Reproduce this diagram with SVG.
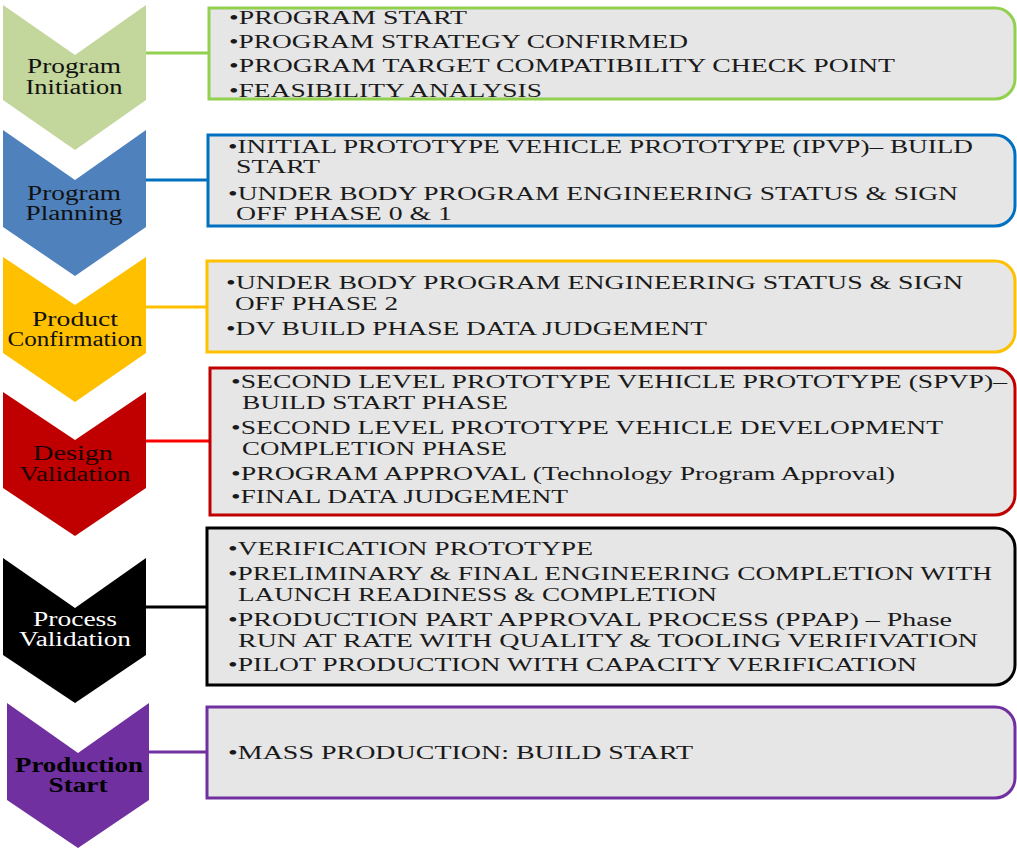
<svg xmlns="http://www.w3.org/2000/svg" width="1017" height="852" viewBox="0 0 1017 852">
<style>
.bg{fill:#ffffff}
.box{fill:#e6e6e6;stroke-width:3}
.ct{font-family:"Liberation Serif","Times New Roman",serif;font-size:20px;fill:#111;text-anchor:middle}
.bt{font-family:"Liberation Serif","Times New Roman",serif;font-size:19px;fill:#1a1a1a}
.con{stroke-width:3;fill:none}
</style>
<rect class="bg" x="0" y="0" width="1017" height="852"/>
<g id="connectors">
<line class="con" x1="144" y1="53" x2="209" y2="53" stroke="#92d050"/>
<line class="con" x1="144" y1="180" x2="208" y2="180" stroke="#0070c0"/>
<line class="con" x1="144" y1="307" x2="207" y2="307" stroke="#ffc000"/>
<line class="con" x1="144" y1="441" x2="210" y2="441" stroke="#ff0000"/>
<line class="con" x1="144" y1="607" x2="207" y2="607" stroke="#000000"/>
<line class="con" x1="148" y1="752" x2="207" y2="752" stroke="#7030a0"/>
</g>
<g id="chevron-initiation">
<path d="M3,5 L75,55 L146,5 L146,100 L75,150 L3,100 Z" fill="#c3d69b"/>
<text class="ct" x="74" y="73" textLength="94" lengthAdjust="spacingAndGlyphs">Program</text>
<text class="ct" x="74" y="94" textLength="97" lengthAdjust="spacingAndGlyphs">Initiation</text>
</g>
<g id="chevron-planning">
<path d="M3,130 L75,180 L146,130 L146,227 L75,276 L3,227 Z" fill="#4f81bd"/>
<text class="ct" x="74" y="200" textLength="94" lengthAdjust="spacingAndGlyphs">Program</text>
<text class="ct" x="74" y="220" textLength="97" lengthAdjust="spacingAndGlyphs">Planning</text>
</g>
<g id="chevron-confirmation">
<path d="M3,257 L75,305 L146,257 L146,353 L75,402 L3,353 Z" fill="#ffc000"/>
<text class="ct" x="75" y="326" textLength="86" lengthAdjust="spacingAndGlyphs">Product</text>
<text class="ct" x="75" y="346" textLength="135" lengthAdjust="spacingAndGlyphs">Confirmation</text>
</g>
<g id="chevron-design">
<path d="M3,392 L75,440 L146,392 L146,488 L75,536 L3,488 Z" fill="#c00000"/>
<text class="ct" x="73" y="460" textLength="80" lengthAdjust="spacingAndGlyphs" style="fill:#1a0000">Design</text>
<text class="ct" x="75" y="481" textLength="111" lengthAdjust="spacingAndGlyphs" style="fill:#1a0000">Validation</text>
</g>
<g id="chevron-process">
<path d="M3,558 L75,608 L146,558 L146,655 L75,703 L3,655 Z" fill="#000000"/>
<text class="ct" x="75" y="626" textLength="84" lengthAdjust="spacingAndGlyphs" style="fill:#ffffff">Process</text>
<text class="ct" x="75" y="646" textLength="112" lengthAdjust="spacingAndGlyphs" style="fill:#ffffff">Validation</text>
</g>
<g id="chevron-production">
<path d="M7,703 L78,753 L149,703 L149,800 L78,848 L7,800 Z" fill="#7030a0"/>
<text class="ct" x="79" y="772" textLength="128" lengthAdjust="spacingAndGlyphs" style="font-weight:bold;fill:#000">Production</text>
<text class="ct" x="78" y="792" textLength="59" lengthAdjust="spacingAndGlyphs" style="font-weight:bold;fill:#000">Start</text>
</g>
<g id="box-initiation">
<path class="box" stroke="#92d050" d="M209,8 H995 A20,20 0 0 1 1015,28 V79 A20,20 0 0 1 995,99 H209 Z"/>
<text class="bt" x="229" y="24" textLength="238" lengthAdjust="spacingAndGlyphs">•PROGRAM START</text>
<text class="bt" x="229" y="48" textLength="459" lengthAdjust="spacingAndGlyphs">•PROGRAM STRATEGY CONFIRMED</text>
<text class="bt" x="229" y="72" textLength="666" lengthAdjust="spacingAndGlyphs">•PROGRAM TARGET COMPATIBILITY CHECK POINT</text>
<text class="bt" x="229" y="97" textLength="313" lengthAdjust="spacingAndGlyphs">•FEASIBILITY ANALYSIS</text>
</g>
<g id="box-planning">
<path class="box" stroke="#0070c0" d="M208,135 H995 A20,20 0 0 1 1015,155 V206 A20,20 0 0 1 995,226 H208 Z"/>
<text class="bt" x="228" y="153" textLength="745" lengthAdjust="spacingAndGlyphs">•INITIAL PROTOTYPE VEHICLE PROTOTYPE (IPVP)– BUILD</text>
<text class="bt" x="236" y="173" textLength="84" lengthAdjust="spacingAndGlyphs">START</text>
<text class="bt" x="228" y="200" textLength="730" lengthAdjust="spacingAndGlyphs">•UNDER BODY PROGRAM ENGINEERING STATUS &amp; SIGN</text>
<text class="bt" x="236" y="220" textLength="216" lengthAdjust="spacingAndGlyphs">OFF PHASE 0 &amp; 1</text>
</g>
<g id="box-confirmation">
<path class="box" stroke="#ffc000" d="M207,261 H995 A20,20 0 0 1 1015,281 V332 A20,20 0 0 1 995,352 H207 Z"/>
<text class="bt" x="226" y="289" textLength="737" lengthAdjust="spacingAndGlyphs">•UNDER BODY  PROGRAM ENGINEERING  STATUS &amp; SIGN</text>
<text class="bt" x="235" y="310" textLength="163" lengthAdjust="spacingAndGlyphs">OFF PHASE 2</text>
<text class="bt" x="226" y="335" textLength="481" lengthAdjust="spacingAndGlyphs">•DV BUILD PHASE DATA JUDGEMENT</text>
</g>
<g id="box-design">
<path class="box" stroke="#c00000" d="M210,368 H995 A20,20 0 0 1 1015,388 V495 A20,20 0 0 1 995,515 H210 Z"/>
<text class="bt" x="231" y="388" textLength="776" lengthAdjust="spacingAndGlyphs">•SECOND LEVEL  PROTOTYPE VEHICLE  PROTOTYPE (SPVP)–</text>
<text class="bt" x="242" y="409" textLength="266" lengthAdjust="spacingAndGlyphs">BUILD START PHASE</text>
<text class="bt" x="231" y="434" textLength="712" lengthAdjust="spacingAndGlyphs">•SECOND LEVEL  PROTOTYPE VEHICLE  DEVELOPMENT</text>
<text class="bt" x="242" y="455" textLength="265" lengthAdjust="spacingAndGlyphs">COMPLETION PHASE</text>
<text class="bt" x="231" y="480" textLength="664" lengthAdjust="spacingAndGlyphs">•PROGRAM APPROVAL (Technology Program Approval)</text>
<text class="bt" x="231" y="503" textLength="337" lengthAdjust="spacingAndGlyphs">•FINAL DATA JUDGEMENT</text>
</g>
<g id="box-process">
<path class="box" stroke="#000000" d="M207,528 H995 A20,20 0 0 1 1015,548 V665 A20,20 0 0 1 995,685 H207 Z"/>
<text class="bt" x="228" y="555" textLength="365" lengthAdjust="spacingAndGlyphs">•VERIFICATION PROTOTYPE</text>
<text class="bt" x="228" y="580" textLength="764" lengthAdjust="spacingAndGlyphs">•PRELIMINARY  &amp; FINAL ENGINEERING COMPLETION WITH</text>
<text class="bt" x="238" y="601" textLength="479" lengthAdjust="spacingAndGlyphs">LAUNCH READINESS &amp; COMPLETION</text>
<text class="bt" x="228" y="626" textLength="724" lengthAdjust="spacingAndGlyphs">•PRODUCTION PART APPROVAL PROCESS (PPAP) – Phase</text>
<text class="bt" x="238" y="647" textLength="740" lengthAdjust="spacingAndGlyphs">RUN AT RATE WITH QUALITY &amp; TOOLING VERIFIVATION</text>
<text class="bt" x="228" y="671" textLength="689" lengthAdjust="spacingAndGlyphs">•PILOT PRODUCTION WITH CAPACITY VERIFICATION</text>
</g>
<g id="box-production">
<path class="box" stroke="#7030a0" d="M207,707 H995 A20,20 0 0 1 1015,727 V778 A20,20 0 0 1 995,798 H207 Z"/>
<text class="bt" x="228" y="759" textLength="465" lengthAdjust="spacingAndGlyphs">•MASS PRODUCTION:  BUILD START</text>
</g>
</svg>
